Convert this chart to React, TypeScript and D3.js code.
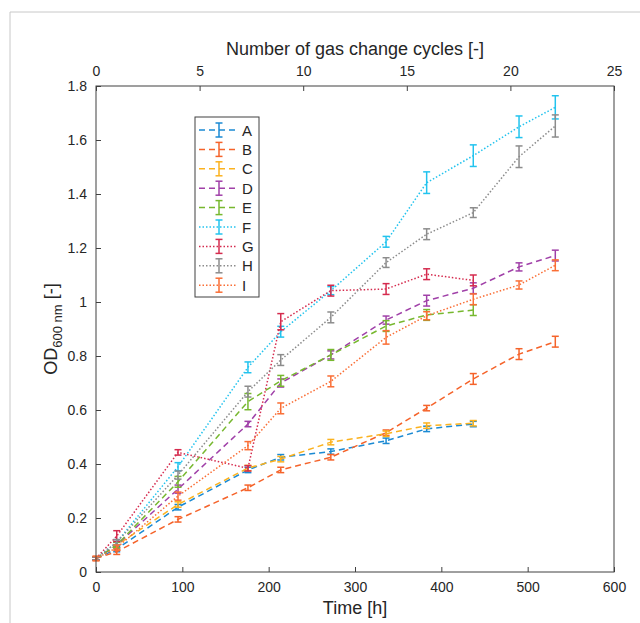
import React, { useEffect, useRef } from "react";
import * as d3 from "d3";

// sampling times (h)
const time = [0, 24, 95, 176, 214, 272, 336, 383, 437, 490, 532];

const names = ["A", "B", "C", "D", "E", "F", "G", "H", "I"];
const colors = ["#1b8ad3", "#f5632a", "#fbb21f", "#a040a8", "#77b82f", "#22c3ee", "#d52b4e", "#8c8c8c", "#fa6e35"];
const dashed = [true, true, true, true, true, false, false, false, false];

// OD600 means
const A = [0.05, 0.085, 0.24, 0.378, 0.425, 0.446, 0.486, 0.53, 0.548];
const B = [0.05, 0.075, 0.195, 0.312, 0.378, 0.425, 0.516, 0.607, 0.715, 0.807, 0.853];
const C = [0.05, 0.1, 0.25, 0.385, 0.418, 0.481, 0.512, 0.542, 0.551];
const D = [0.05, 0.1, 0.307, 0.548, 0.7, 0.804, 0.933, 1.005, 1.051, 1.13, 1.172];
const E = [0.05, 0.1, 0.334, 0.631, 0.708, 0.804, 0.911, 0.952, 0.97];
const F = [0.05, 0.11, 0.39, 0.758, 0.89, 1.042, 1.223, 1.442, 1.542, 1.649, 1.721];
const G = [0.05, 0.133, 0.443, 0.384, 0.927, 1.042, 1.048, 1.103, 1.08];
const H = [0.05, 0.11, 0.359, 0.668, 0.785, 0.943, 1.146, 1.251, 1.331, 1.538, 1.652];
const I = [0.05, 0.09, 0.281, 0.468, 0.606, 0.706, 0.869, 0.949, 1.01, 1.063, 1.136];

// error bar half heights
const errA = [0.005, 0.01, 0.01, 0.01, 0.01, 0.01, 0.01, 0.01, 0.01];
const errB = [0.008, 0.01, 0.01, 0.01, 0.01, 0.01, 0.01, 0.01, 0.02, 0.02, 0.02];
const errC = [0.005, 0.01, 0.01, 0.01, 0.01, 0.01, 0.01, 0.01, 0.01];
const errD = [0.005, 0.01, 0.015, 0.01, 0.015, 0.015, 0.015, 0.02, 0.02, 0.015, 0.02];
const errE = [0.005, 0.01, 0.02, 0.03, 0.02, 0.02, 0.02, 0.02, 0.02];
const errF = [0.005, 0.01, 0.015, 0.02, 0.02, 0.015, 0.02, 0.04, 0.04, 0.04, 0.043];
const errG = [0.005, 0.02, 0.01, 0.01, 0.03, 0.02, 0.02, 0.02, 0.02];
const errH = [0.005, 0.01, 0.015, 0.02, 0.02, 0.02, 0.018, 0.02, 0.018, 0.04, 0.041];
const errI = [0.008, 0.01, 0.015, 0.015, 0.02, 0.02, 0.025, 0.015, 0.02, 0.015, 0.02];

const values = [A, B, C, D, E, F, G, H, I];
const errors = [errA, errB, errC, errD, errE, errF, errG, errH, errI];

const timeTicks = [0, 100, 200, 300, 400, 500, 600];
const cycleTicks = [0, 5, 10, 15, 20, 25];
const odTicks = [0, 0.2, 0.4, 0.6, 0.8, 1, 1.2, 1.4, 1.6, 1.8];

const font = "'Liberation Sans', Arial, sans-serif";
const axisColor = "#404040";

export default function App() {
  const ref = useRef<SVGSVGElement>(null);

  useEffect(() => {
    const svg = d3.select(ref.current);
    svg.selectAll("*").remove();

    const left = 96, right = 614, top = 86, bottom = 572;
    const x = d3.scaleLinear().domain([0, 600]).range([left, right]);
    const xTop = d3.scaleLinear().domain([0, 25]).range([left, right]);
    const y = d3.scaleLinear().domain([0, 1.8]).range([bottom, top]);

    // light outer frame
    svg.append("path").attr("d", "M10,640 L10,12 L640,12").attr("fill", "none").attr("stroke", "#c8c8c8");

    const g = svg.append("g");

    // data
    values.forEach((vals, s) => {
      const pts = vals.map((v, i) => ({ t: time[i], v, e: errors[s][i] }));
      const line = d3.line<any>().x((d) => x(d.t)).y((d) => y(d.v));
      g.append("path")
        .datum(pts)
        .attr("d", line)
        .attr("fill", "none")
        .attr("stroke", colors[s])
        .attr("stroke-width", 1.5)
        .attr("stroke-dasharray", dashed[s] ? "6,4" : "1.5,2");

      const eb = g.append("g").attr("stroke", colors[s]).attr("stroke-width", 1.5);
      pts.forEach((d) => {
        const cx = x(d.t);
        eb.append("line").attr("x1", cx).attr("x2", cx).attr("y1", y(d.v - d.e)).attr("y2", y(d.v + d.e));
        eb.append("line").attr("x1", cx - 3.5).attr("x2", cx + 3.5).attr("y1", y(d.v - d.e)).attr("y2", y(d.v - d.e));
        eb.append("line").attr("x1", cx - 3.5).attr("x2", cx + 3.5).attr("y1", y(d.v + d.e)).attr("y2", y(d.v + d.e));
      });
    });

    // axes box
    g.append("rect")
      .attr("x", left).attr("y", top)
      .attr("width", right - left).attr("height", bottom - top)
      .attr("fill", "none").attr("stroke", axisColor).attr("stroke-width", 1);

    const styleAxis = (sel: any) => {
      sel.select(".domain").remove();
      sel.selectAll("line").attr("stroke", axisColor);
      sel.selectAll("text").attr("font-family", font).attr("font-size", 14).attr("fill", "#262626");
    };

    g.append("g")
      .attr("transform", `translate(0,${bottom})`)
      .call(d3.axisBottom(x).tickValues(timeTicks).tickSize(-5).tickPadding(10).tickFormat(d3.format("d")))
      .call(styleAxis);

    g.append("g")
      .attr("transform", `translate(0,${top})`)
      .call(d3.axisTop(xTop).tickValues(cycleTicks).tickSize(-5).tickPadding(10).tickFormat(d3.format("d")))
      .call(styleAxis);

    g.append("g")
      .attr("transform", `translate(${left},0)`)
      .call(d3.axisLeft(y).tickValues(odTicks).tickSize(-5).tickPadding(9).tickFormat((d: any) => d3.format("~g")(d)))
      .call(styleAxis);

    // axis titles
    svg.append("text")
      .attr("x", (left + right) / 2).attr("y", 614)
      .attr("text-anchor", "middle").attr("font-family", font).attr("font-size", 18).attr("fill", "#262626")
      .text("Time [h]");

    svg.append("text")
      .attr("x", (left + right) / 2).attr("y", 55)
      .attr("text-anchor", "middle").attr("font-family", font).attr("font-size", 18).attr("fill", "#262626")
      .text("Number of gas change cycles [-]");

    const yl = svg.append("text")
      .attr("transform", `translate(57,${(top + bottom) / 2}) rotate(-90)`)
      .attr("text-anchor", "middle").attr("font-family", font).attr("font-size", 18).attr("fill", "#262626");
    yl.append("tspan").text("OD");
    yl.append("tspan").attr("font-size", 13).attr("dy", 5).text("600 nm");
    yl.append("tspan").attr("dy", -5).text(" [-]");

    // legend
    const lx = 195, ly = 117, rowH = 19.4;
    const leg = svg.append("g");
    leg.append("rect")
      .attr("x", lx).attr("y", ly).attr("width", 64).attr("height", 180)
      .attr("fill", "white").attr("stroke", axisColor).attr("stroke-width", 1);
    names.forEach((n, s) => {
      const cy = ly + 13 + s * rowH;
      leg.append("line")
        .attr("x1", lx + 4).attr("x2", lx + 42).attr("y1", cy).attr("y2", cy)
        .attr("stroke", colors[s]).attr("stroke-width", 1.5)
        .attr("stroke-dasharray", dashed[s] ? "6,4" : "1.5,2");
      const ex = lx + 24;
      leg.append("line").attr("x1", ex).attr("x2", ex).attr("y1", cy - 7).attr("y2", cy + 7).attr("stroke", colors[s]).attr("stroke-width", 1.5);
      leg.append("line").attr("x1", ex - 3.5).attr("x2", ex + 3.5).attr("y1", cy - 7).attr("y2", cy - 7).attr("stroke", colors[s]).attr("stroke-width", 1.5);
      leg.append("line").attr("x1", ex - 3.5).attr("x2", ex + 3.5).attr("y1", cy + 7).attr("y2", cy + 7).attr("stroke", colors[s]).attr("stroke-width", 1.5);
      leg.append("text")
        .attr("x", lx + 47).attr("y", cy + 5.5)
        .attr("font-family", font).attr("font-size", 15).attr("fill", "#262626")
        .text(n);
    });
  }, []);

  return (
    <svg ref={ref} width={640} height={623} style={{ position: "absolute", left: 0, top: 0, background: "white" }} />
  );
}
